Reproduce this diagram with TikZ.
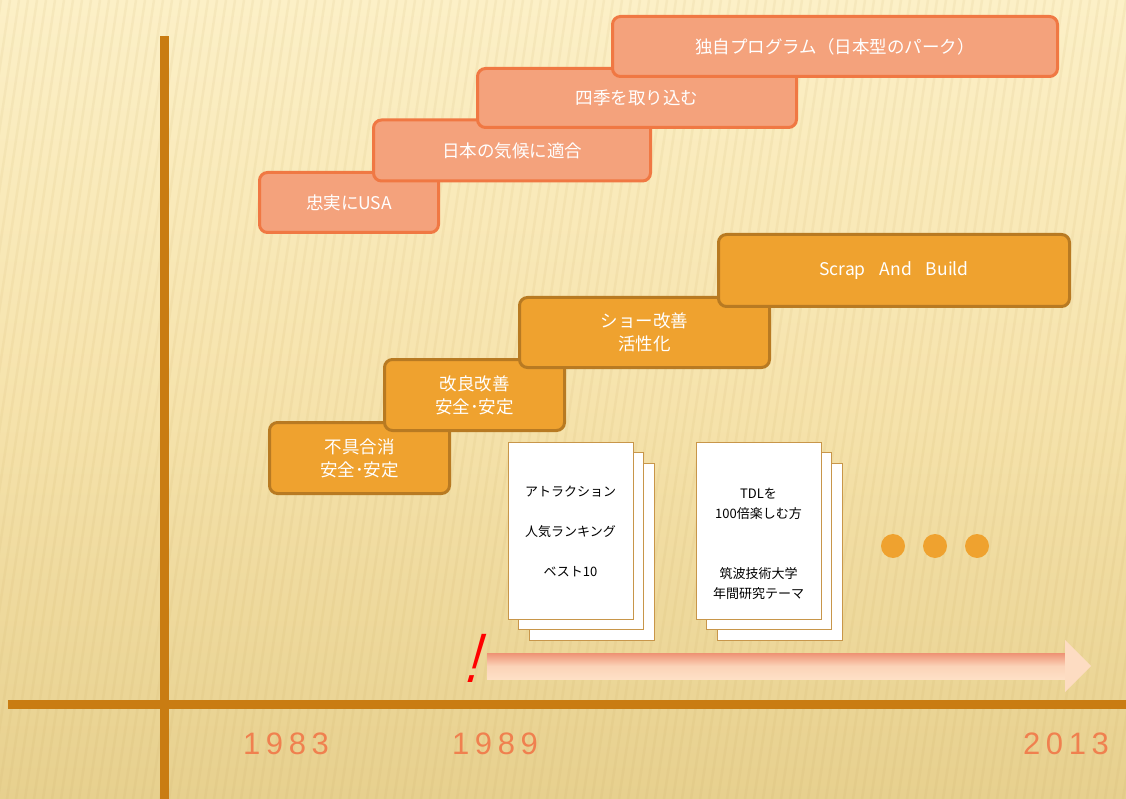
\documentclass[tikz,border=0pt]{standalone}
\usepackage{fontspec}
\usepackage{graphicx}
\newfontfamily\jp{Noto Sans CJK JP}
\newfontfamily\yr[LetterSpace=18]{Liberation Sans}
\newfontfamily\excl[FakeSlant=0.42]{Liberation Sans}
\definecolor{bgtop}{HTML}{FCF0C7}
\definecolor{bgmid}{HTML}{F6E3AC}
\definecolor{bgbot}{HTML}{E7D08E}
\definecolor{axis}{HTML}{C97C12}
\definecolor{pinkfill}{HTML}{F4A27C}
\definecolor{pinkdraw}{HTML}{F07843}
\definecolor{orfill}{HTML}{EFA22F}
\definecolor{ordraw}{HTML}{B87A22}
\definecolor{pagedraw}{HTML}{C8964A}
\definecolor{yearcol}{HTML}{F0804F}
\definecolor{arrtop}{HTML}{EE9274}
\definecolor{arrbot}{HTML}{FEE0C6}
\definecolor{arrmid}{HTML}{FBD3B8}
\definecolor{stripe}{HTML}{C8A860}
\begin{document}
\begin{tikzpicture}[x=1pt,y=-1pt,
  pinkbox/.style={draw=pinkdraw, fill=pinkfill, line width=3pt, rounded corners=8pt,
    text=white, font=\jp\fontsize{17.5}{22}\selectfont, align=center, inner sep=0pt},
  orbox/.style={draw=ordraw, fill=orfill, line width=3pt, rounded corners=8pt,
    text=white, font=\jp\fontsize{17.5}{23}\selectfont, align=center, inner sep=0pt},
  page/.style={draw=pagedraw, fill=white, line width=0.8pt, minimum width=125pt,
    minimum height=177pt, inner sep=0pt},
  pagetext/.style={text=black, font=\jp\fontsize{13}{20}\selectfont, align=center, inner sep=0pt},
  year/.style={text=yearcol, font=\yr\fontsize{31}{31}\selectfont, inner sep=0pt},
  dot/.style={circle, fill=orfill, minimum size=24pt, inner sep=0pt}]
\useasboundingbox (0,0) rectangle (1126,799);
% background
\fill[top color=bgtop, bottom color=bgbot, middle color=bgmid] (0,0) rectangle (1126,799);
\begin{scope}
\clip (0,0) rectangle (1126,799);
\foreach \x in {-200,-191,...,1126}
  \draw[stripe, opacity=0.10, line width=2.5pt] (\x+120,0) -- (\x,799);
\end{scope}
% axes
\coordinate (vtop) at (164.5,36);
\coordinate (vbot) at (164.5,799);
\coordinate (hl) at (8,704.5);
\coordinate (hr) at (1126,704.5);
\draw[axis, line width=9pt] (hl) -- (hr);
\draw[axis, line width=9pt] (vtop) -- (vbot);
% pink boxes
\node[pinkbox, minimum width=179pt, minimum height=60pt] (p1) at (349,202.5) {忠実にUSA};
\node[pinkbox, minimum width=277pt, minimum height=61pt] (p2) at (512,150.5) {日本の気候に適合};
\node[pinkbox, minimum width=319pt, minimum height=59pt] (p3) at (637,98) {四季を取り込む};
\node[pinkbox, minimum width=445pt, minimum height=60pt] (p4) at (835,46.5) {独自プログラム（日本型のパーク）};
% orange boxes
\node[orbox, minimum width=180pt, minimum height=71pt] (o1) at (359.5,458) {不具合消\\安全･安定};
\node[orbox, minimum width=180pt, minimum height=71pt] (o2) at (474.5,395) {改良改善\\安全･安定};
\node[orbox, minimum width=250pt, minimum height=70pt] (o3) at (644.5,332.5) {ショー改善\\活性化};
\node[orbox, minimum width=351pt, minimum height=72pt] (o4) at (894,270.5) {Scrap\hspace{14pt}And\hspace{14pt}Build};
% documents
\node[page] (d1c) at (591.5,551.5) {};
\node[page] (d1b) at (580.5,541) {};
\node[page] (d1a) at (570.5,530.5) {};
\node[pagetext, font=\jp\fontsize{13}{40}\selectfont] (t1) at (570.5,531) {アトラクション\\人気ランキング\\ベスト10};
\node[page] (d2c) at (779.5,551.5) {};
\node[page] (d2b) at (768.5,541) {};
\node[page] (d2a) at (758.5,530.5) {};
\node[pagetext] (t2) at (758.5,544) {TDLを\\100倍楽しむ方\\[40pt]筑波技術大学\\年間研究テーマ};
% dots
\node[dot] (c1) at (893,546) {};
\node[dot] (c2) at (935,546) {};
\node[dot] (c3) at (977,546) {};
% big arrow
\shade[top color=arrtop, bottom color=arrbot, middle color=arrmid]
  (487,653) rectangle (1066,679);
\fill[arrbot!70!arrmid] (1065,640) -- (1091,666) -- (1065,692) -- cycle;
% exclamation
\node[text=red, font=\excl\fontsize{70}{70}\selectfont, inner sep=0pt] (ex) at (470,658) {\scalebox{0.7}[1.0]{!}};
% years
\node[year] (y1) at (286,744) {1983};
\node[year] (y2) at (495,744) {1989};
\node[year] (y3) at (1066,744) {2013};
\end{tikzpicture}
\end{document}
